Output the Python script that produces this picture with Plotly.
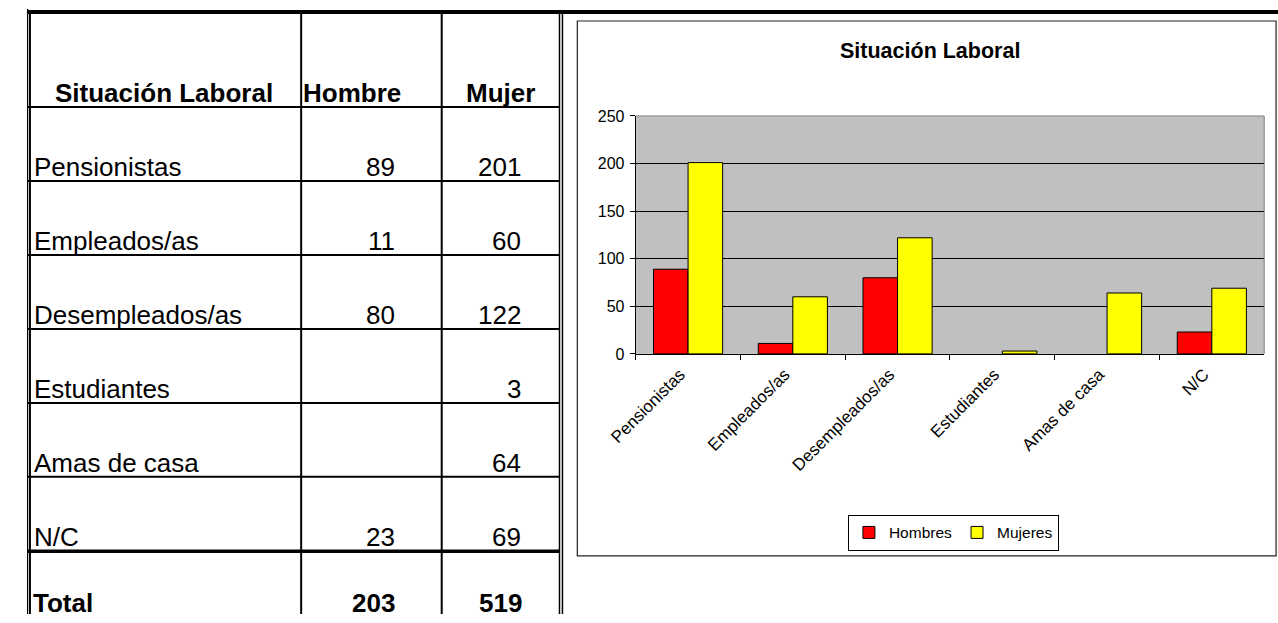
import plotly.graph_objects as go

# ---------------- data ----------------
categorias = ["Pensionistas", "Empleados/as", "Desempleados/as", "Estudiantes", "Amas de casa", "N/C"]
hombres = [89, 11, 80, None, None, 23]
mujeres = [201, 60, 122, 3, 64, 69]
encabezados = ["Situación Laboral", "Hombre", "Mujer"]
etiqueta_total = "Total"
series = ["Hombres", "Mujeres"]
titulo = "Situación Laboral"
y_ticks = [0, 50, 100, 150, 200, 250]

W, H = 1278, 623
FONT = "Arial, Liberation Sans, sans-serif"

# mapping from picture pixels to paper fractions (compensates the capture frame)
SX, OX = 0.989, 12.0
SY, OY = 0.973, 8.0


def px(x):
    return max(0.0, min(1.0, (x - OX) / SX / W))


def py(y):
    return 1 - max(0.0, min(1.0, (y - OY) / SY / H))


fig = go.Figure()
fig.add_trace(go.Bar(x=categorias, y=hombres, name=series[0],
                     marker=dict(color="#FF0000", line=dict(color="black", width=1))))
fig.add_trace(go.Bar(x=categorias, y=mujeres, name=series[1],
                     marker=dict(color="#FFFF00", line=dict(color="black", width=1))))

shapes = []


def line(x0, y0, x1, y1, w, c="black"):
    shapes.append(dict(type="line", xref="paper", yref="paper",
                       x0=px(x0), y0=py(y0), x1=px(x1), y1=py(y1),
                       line=dict(color=c, width=w), layer="above"))


def vline_paper(xp, y0, y1, w):
    shapes.append(dict(type="line", xref="paper", yref="paper",
                       x0=xp / W, y0=py(y0), x1=xp / W, y1=py(y1),
                       line=dict(color="black", width=w), layer="above"))


# table frame
line(8, 12, 1278, 12, 4)
vline_paper(0.6, 9, 623, 1.2)
vline_paper(3.0, 10, 623, 2)
line(550, 12, 550, 623, 1.5)
line(553, 12, 553, 623, 1.5)
line(289, 12, 289, 623, 2)
line(431, 12, 431, 623, 2)
for yy in [107, 181, 255, 329, 403, 477]:
    line(13, yy, 550, yy, 2)
line(13, 551.5, 550, 551.5, 3.5)

# chart outer box
shapes.append(dict(type="rect", xref="paper", yref="paper",
                   x0=px(568), y0=py(556), x1=px(1274), y1=py(21),
                   line=dict(color="#222222", width=1.2), layer="below"))
# plot area border (top & right, gray)
shapes.append(dict(type="path", xref="x domain", yref="y domain",
                   path="M 0 1 L 1 1 L 1 0", line=dict(color="#808080", width=1),
                   layer="above"))

ann = []
hx = [150, 340, 490]
for t, x in zip(encabezados, hx):
    ann.append(dict(text="<b>%s</b>" % t, x=px(x), y=py(93), xref="paper", yref="paper",
                    xanchor="center", yanchor="middle", showarrow=False,
                    font=dict(family=FONT, size=26, color="black")))
for i, cat in enumerate(categorias):
    yc = 167 + 74 * i
    ann.append(dict(text=cat, x=px(17.5), y=py(yc), xref="paper", yref="paper",
                    xanchor="left", yanchor="middle", showarrow=False,
                    font=dict(family=FONT, size=26, color="black")))
    if hombres[i] is not None:
        ann.append(dict(text=str(hombres[i]), x=px(386), y=py(yc), xref="paper", yref="paper",
                        xanchor="right", yanchor="middle", showarrow=False,
                        font=dict(family=FONT, size=26, color="black")))
    if mujeres[i] is not None:
        ann.append(dict(text=str(mujeres[i]), x=px(513), y=py(yc), xref="paper", yref="paper",
                        xanchor="right", yanchor="middle", showarrow=False,
                        font=dict(family=FONT, size=26, color="black")))
tot_h = sum(v for v in hombres if v is not None)
tot_m = sum(v for v in mujeres if v is not None)
for txt, x, anc in [(etiqueta_total, 16, "left"), (str(tot_h), 386, "right"), (str(tot_m), 514, "right")]:
    ann.append(dict(text="<b>%s</b>" % txt, x=px(x), y=py(603), xref="paper", yref="paper",
                    xanchor=anc, yanchor="middle", showarrow=False,
                    font=dict(family=FONT, size=26, color="black")))
ann.append(dict(text="<b>%s</b>" % titulo, x=px(924), y=py(51), xref="paper", yref="paper",
                xanchor="center", yanchor="middle", showarrow=False,
                font=dict(family=FONT, size=21.5, color="black")))

fig.update_layout(
    width=W, height=H, autosize=False,
    margin=dict(l=0, r=0, t=0, b=0),
    paper_bgcolor="white", plot_bgcolor="#C0C0C0",
    barmode="group", bargap=0.34, bargroupgap=0,
    showlegend=True,
    legend=dict(orientation="h", x=px(948), y=py(533), xanchor="center", yanchor="middle",
                bordercolor="black", borderwidth=1, bgcolor="white",
                font=dict(family=FONT, size=15.5, color="black"),
                itemwidth=30, tracegroupgap=0),
    xaxis=dict(domain=[px(627), px(1262)], type="category", showline=True, linecolor="black",
               linewidth=1, ticks="outside", ticklen=5, tickcolor="black", tickson="boundaries",
               showgrid=False, tickangle=-45, ticklabelshift=-8, ticklabelstandoff=3,
               tickfont=dict(family=FONT, size=17, color="black"), fixedrange=True),
    yaxis=dict(domain=[py(354), py(116)], range=[0, 250], tickvals=y_ticks, showgrid=True,
               gridcolor="black", gridwidth=1, showline=True, linecolor="black", linewidth=1,
               ticks="outside", ticklen=5, tickcolor="black", zeroline=False,
               ticklabelstandoff=2,
               tickfont=dict(family=FONT, size=16, color="black"), fixedrange=True),
    shapes=shapes,
    annotations=ann,
)

fig.write_html(
    "out.html",
    config={"displayModeBar": False},
    post_script="document.body.style.margin='0';document.body.style.padding='0';"
                "document.documentElement.style.overflow='hidden';"
                "var d=document.getElementById('{plot_id}');d.style.position='fixed';"
                "d.style.left='0px';d.style.top='0px';",
)
